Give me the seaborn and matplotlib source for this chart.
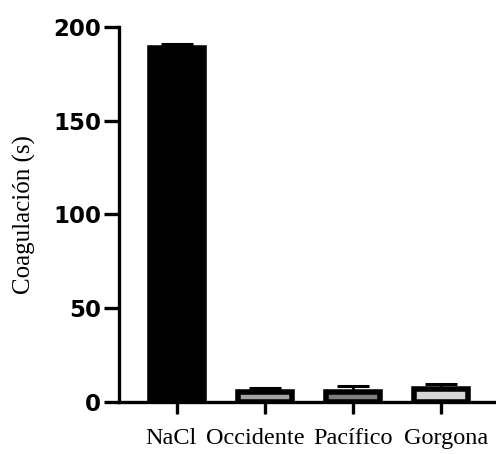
import matplotlib
matplotlib.use("Agg")
import matplotlib.pyplot as plt
import matplotlib.transforms as mtransforms
import seaborn as sns
import numpy as np

# Clotting time per treatment (mean and SD, seconds)
groups = ["NaCl", "Occidente", "Pacífico", "Gorgona"]
means = [188.5, 5.3, 5.4, 7.0]
sds = [2.5, 2.0, 3.3, 2.4]
fills = ["#000000", "#A3A3A3", "#7F7F7F", "#D6D6D6"]

sns.set_style("ticks")
plt.rcParams["font.family"] = ["DejaVu Sans"]

fig = plt.figure(figsize=(4.96, 4.54), dpi=100)
ax = fig.add_axes([119 / 496, 52 / 454, 377 / 496, 375.3 / 454])

sns.barplot(x=groups, y=means, hue=groups, palette=fills, legend=False,
            width=0.607, edgecolor="black", linewidth=4.0, errorbar=None,
            saturation=1, ax=ax)
for patch in ax.patches:
    patch.set_zorder(3)

# upper-only SD whiskers, tucked behind the bars
ax.errorbar(np.arange(len(groups)), means,
            yerr=[np.zeros(len(sds)), sds], fmt="none",
            ecolor="black", elinewidth=2.0, capsize=11.2, capthick=2.2, zorder=2)

ax.set_ylim(0, 200)
ax.set_yticks([0, 50, 100, 150, 200])
ax.set_xlim(-0.659, 3.625)

for side in ["top", "right"]:
    ax.spines[side].set_visible(False)
for side in ["left", "bottom"]:
    ax.spines[side].set_linewidth(2.4)
    ax.spines[side].set_color("black")
    ax.spines[side].set_zorder(4)

ax.tick_params(axis="y", width=2.4, length=11, pad=2, direction="out",
               color="black", labelcolor="black")
ax.tick_params(axis="x", width=2.4, length=8.5, pad=10, direction="out",
               color="black", labelcolor="black")
for lab in ax.get_yticklabels():
    lab.set_fontweight("bold")
    lab.set_fontsize(16.5)

# serif group names, nudged sideways so the long names do not collide
nudges = [-6, -10, 0, 5]
for lab, dx in zip(ax.get_xticklabels(), nudges):
    lab.set_fontfamily("Liberation Serif")
    lab.set_fontsize(17.5)
    lab.set_transform(lab.get_transform() +
                      mtransforms.ScaledTranslation(dx / 100, 0, fig.dpi_scale_trans))

ax.set_xlabel("")
ax.set_ylabel("Coagulación (s)", fontfamily="Liberation Serif", fontsize=18,
              labelpad=12, color="black")

fig.savefig("out.png", dpi=100)
